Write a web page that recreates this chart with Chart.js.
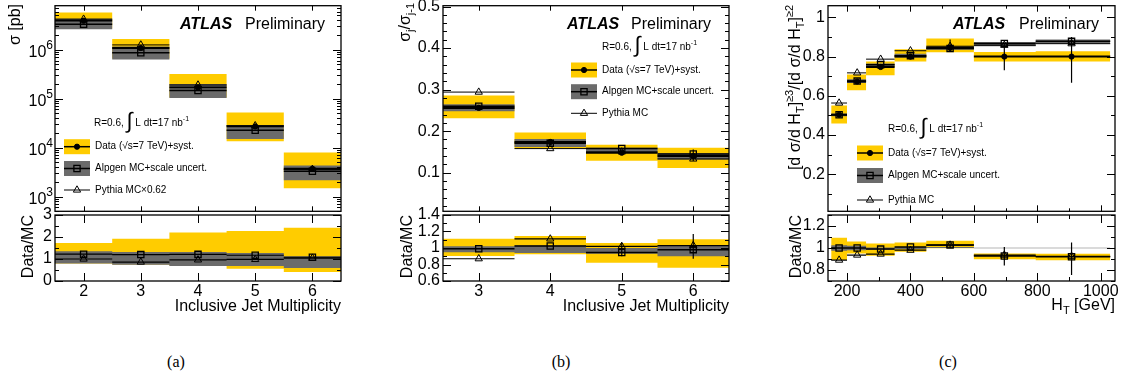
<!DOCTYPE html>
<html>
<head>
<meta charset="utf-8">
<script src="https://cdn.jsdelivr.net/npm/chart.js@4/dist/chart.umd.min.js"></script>
<style>
  body { margin: 0; background: #fff; }
  #wrap { position: relative; width: 1123px; height: 384px; overflow: hidden; }
  canvas { position: absolute; }
  .cap { position: absolute; top: 354px; font: 16px "Liberation Serif", "DejaVu Serif", serif; line-height: 16px; transform: translateX(-50%); }
</style>
</head>
<body>
<div id="wrap">
  <canvas id="mainA"></canvas>
  <canvas id="ratioA"></canvas>
  <canvas id="mainB"></canvas>
  <canvas id="ratioB"></canvas>
  <canvas id="mainC"></canvas>
  <canvas id="ratioC"></canvas>
  <div class="cap" style="left:176px">(a)</div>
  <div class="cap" style="left:561px">(b)</div>
  <div class="cap" style="left:948px">(c)</div>
</div>
<script>
// ---- panel (a): inclusive cross section vs jet multiplicity ----
const multEdgesA = [1.5, 2.5, 3.5, 4.5, 5.5, 6.5];
const jetMultA = [2, 3, 4, 5, 6];
const xsecData = [3.9e6, 1.08e6, 1.7e5, 2.7e4, 3.7e3];
const xsecSystLo = [2.7e6, 6.6e5, 1.05e5, 1.35e4, 1.47e3];
const xsecSystHi = [5.75e6, 1.66e6, 3.2e5, 5.2e4, 7.9e3];
const xsecAlpgen = [3.3e6, 8.6e5, 1.47e5, 2.25e4, 3.3e3];
const xsecAlpgenLo = [2.6e6, 6.3e5, 1.03e5, 1.5e4, 2.15e3];
const xsecAlpgenHi = [4.3e6, 1.16e6, 2.0e5, 2.9e4, 4.3e3];
const xsecPythia = [4.2e6, 1.25e6, 1.9e5, 2.8e4, 3.6e3];
const dmcSystLoA = [0.8, 0.75, 0.7, 0.56, 0.41];
const dmcSystHiA = [1.73, 1.92, 2.2, 2.27, 2.42];
const dmcAlpLoA = [0.79, 0.74, 0.68, 0.68, 0.59];
const dmcAlpHiA = [1.35, 1.32, 1.32, 1.27, 1.12];
const dmcAlpgenA = [1.22, 1.2, 1.21, 1.17, 1.08];
const dmcPythiaA = [1.0, 0.86, 0.96, 0.98, 1.04];
const xTicksA = [2, 3, 4, 5, 6];
const xLabelsA = ['2', '3', '4', '5', '6'];
const yTicksMainA = [1e3, 1e4, 1e5, 1e6];
const yExpMainA = ['3', '4', '5', '6'];
const yTicksRatioA = [0, 1, 2, 3];
const yLabelsRatioA = ['0', '1', '2', '3'];

// ---- panel (b): sigma_j / sigma_(j-1) ----
const multEdgesB = [2.5, 3.5, 4.5, 5.5, 6.5];
const jetMultB = [3, 4, 5, 6];
const rjData = [0.256, 0.174, 0.148, 0.140];
const rjSystLo = [0.231, 0.158, 0.129, 0.111];
const rjSystHi = [0.286, 0.197, 0.167, 0.160];
const rjAlpgen = [0.260, 0.171, 0.158, 0.145];
const rjAlpgenLo = [0.248, 0.162, 0.148, 0.132];
const rjAlpgenHi = [0.265, 0.181, 0.160, 0.147];
const rjPythia = [0.294, 0.158, 0.150, 0.133];
const rjStatLo = [null, null, 0.143, 0.128];
const rjStatHi = [null, null, 0.153, 0.156];
const dmcSystLoB = [0.903, 0.923, 0.82, 0.76];
const dmcSystHiB = [1.113, 1.145, 1.06, 1.105];
const dmcAlpLoB = [0.95, 0.94, 0.93, 0.9];
const dmcAlpHiB = [1.02, 1.03, 1.0, 1.025];
const dmcAlpgenB = [0.99, 1.025, 0.945, 0.98];
const dmcPythiaB = [0.87, 1.11, 1.02, 1.03];
const dmcStatLoB = [null, null, 0.9, 0.87];
const dmcStatHiB = [null, null, 1.06, 1.17];
const xTicksB = [3, 4, 5, 6];
const xLabelsB = ['3', '4', '5', '6'];
const yTicksMainB = [0.1, 0.2, 0.3, 0.4, 0.5];
const yLabelsMainB = ['0.1', '0.2', '0.3', '0.4', '0.5'];
const yTicksRatioB = [0.6, 0.8, 1, 1.2, 1.4];
const yLabelsRatioB = ['0.6', '0.8', '1', '1.2', '1.4'];

// ---- panel (c): >=3 / >=2 jet fraction vs HT ----
const htEdges = [150, 200, 260, 350, 450, 600, 795, 1030];
const htCenters = [175, 232, 306, 400, 525, 696, 908];
const fracData = [0.503, 0.673, 0.747, 0.800, 0.845, 0.800, 0.800];
const fracSystLo = [0.458, 0.628, 0.705, 0.775, 0.822, 0.775, 0.775];
const fracSystHi = [0.550, 0.708, 0.775, 0.838, 0.892, 0.823, 0.828];
const fracAlpgen = [0.503, 0.675, 0.758, 0.805, 0.842, 0.867, 0.878];
const fracAlpgenLo = [0.495, 0.665, 0.748, 0.795, 0.835, 0.853, 0.866];
const fracAlpgenHi = [0.510, 0.685, 0.765, 0.815, 0.850, 0.875, 0.888];
const fracPythia = [0.563, 0.717, 0.787, 0.830, 0.853, 0.858, 0.866];
const fracStatLo = [null, null, null, null, 0.825, 0.730, 0.667];
const fracStatHi = [null, null, null, null, 0.888, 0.865, 0.900];
const dmcSystLoC = [0.89, 0.95, 0.93, 0.967, 0.997, 0.897, 0.888];
const dmcSystHiC = [1.094, 1.06, 1.04, 1.05, 1.067, 0.95, 0.948];
const dmcAlpLoC = [0.975, 0.98, 0.985, 0.99, 1.0, 0.997, 0.997];
const dmcAlpHiC = [1.025, 1.02, 1.005, 1.01, 1.01, 1.003, 1.003];
const dmcAlpgenC = [1.0, 1.0, 0.99, 1.01, 1.027, 0.927, 0.92];
const dmcPythiaC = [0.89, 0.936, 0.945, 0.98, 1.027, 0.935, 0.925];
const dmcStatLoC = [null, null, null, null, 1.0, 0.84, 0.755];
const dmcStatHiC = [null, null, null, null, 1.05, 1.01, 1.05];
const xTicksC = [200, 400, 600, 800, 1000];
const xLabelsC = ['200', '400', '600', '800', '1000'];
const yTicksMainC = [0.2, 0.4, 0.6, 0.8, 1];
const yLabelsMainC = ['0.2', '0.4', '0.6', '0.8', '1'];
const yTicksRatioC = [0.8, 1, 1.2];
const yLabelsRatioC = ['0.8', '1', '1.2'];

const FONT = '"Liberation Sans", Arial, Helvetica, sans-serif';
const YELLOW = '#ffcc00';
const GRAY = '#6b6b6b';
const MK = {
  data: { pointStyle: 'circle', radius: 2.6, fill: '#000', bw: 1 },
  alpgen: { pointStyle: 'rect', radius: 4.4, fill: 'rgba(0,0,0,0)', bw: 1.3 },
  pythia: { pointStyle: 'triangle', radius: 4.2, fill: 'rgba(0,0,0,0)', bw: 1 }
};

// step outline of a histogram: value i holds from edge i to edge i+1
function stepPts(edges, vals) {
  const pts = vals.map((v, i) => ({ x: edges[i], y: v }));
  pts.push({ x: edges[edges.length - 1], y: vals[vals.length - 1] });
  return pts;
}
function segPts(edges, vals) {
  const pts = [];
  vals.forEach((v, i) => {
    if (v == null) return;
    pts.push({ x: edges[i], y: v }, { x: edges[i + 1], y: v }, { x: edges[i + 1], y: null });
  });
  return pts;
}
function errPts(xs, lo, hi) {
  const pts = [];
  lo.forEach((v, i) => {
    if (v == null) return;
    pts.push({ x: xs[i], y: v }, { x: xs[i], y: hi[i] }, { x: xs[i], y: null });
  });
  return pts;
}
function bandSets(edges, lo, hi, color, order) {
  const base = { stepped: 'before', borderWidth: 0, borderColor: 'rgba(0,0,0,0)', pointRadius: 0, order };
  return [
    Object.assign({ data: stepPts(edges, hi), fill: false }, base),
    Object.assign({ data: stepPts(edges, lo), fill: '-1', backgroundColor: color }, base)
  ];
}
function binLine(edges, vals, width, color) {
  return { data: segPts(edges, vals), borderColor: color || '#000', borderWidth: width, pointRadius: 0, fill: false, order: 5 };
}
function errSet(xs, lo, hi) {
  return { data: errPts(xs, lo, hi), borderColor: '#000', borderWidth: 1.2, pointRadius: 0, fill: false, order: 4 };
}
function markSet(xs, vals, mk) {
  return {
    data: vals.map((v, i) => ({ x: xs[i], y: v })), showLine: false,
    pointStyle: mk.pointStyle, pointRadius: mk.radius, pointBackgroundColor: mk.fill,
    pointBorderColor: '#000', pointBorderWidth: mk.bw, order: 1
  };
}

function tickMarks(scale, minor, log) {
  const out = [];
  if (log) {
    const e0 = Math.floor(Math.log10(scale.min)), e1 = Math.ceil(Math.log10(scale.max));
    for (let e = e0; e <= e1; e++) {
      for (let m = 1; m < 10; m++) {
        const v = m * Math.pow(10, e);
        if (v >= scale.min && v <= scale.max) out.push({ v, major: m === 1 });
      }
    }
    return out;
  }
  const t = scale.ticks.map(k => k.value);
  const sub = (t[1] - t[0]) / minor;
  let v = t[0];
  while (v - sub >= scale.min - 1e-9) v -= sub;
  for (; v <= scale.max + 1e-9; v += sub) {
    out.push({ v, major: t.some(k => Math.abs(k - v) < sub / 10) });
  }
  return out;
}

function fontOf(p) {
  return (p.italic ? 'italic ' : '') + (p.bold ? 'bold ' : '') + p.s + 'px ' + FONT;
}
function drawRich(ctx, t) {
  ctx.save();
  ctx.translate(t.x, t.y);
  if (t.rot) ctx.rotate(-Math.PI / 2);
  ctx.fillStyle = '#000';
  ctx.textBaseline = 'alphabetic';
  ctx.textAlign = 'left';
  let w = 0;
  t.parts.forEach(p => { ctx.font = fontOf(p); w += ctx.measureText(p.t).width; });
  let x = t.align === 'right' ? -w : t.align === 'center' ? -w / 2 : 0;
  t.parts.forEach(p => {
    ctx.font = fontOf(p);
    ctx.fillText(p.t, x, p.dy || 0);
    x += ctx.measureText(p.t).width;
  });
  ctx.restore();
}
function drawLegendRow(ctx, r) {
  if (r.fill) {
    ctx.fillStyle = r.fill;
    ctx.fillRect(r.x, r.y - r.h / 2, r.w, r.h);
  }
  ctx.strokeStyle = '#000';
  ctx.lineWidth = r.lw;
  ctx.beginPath();
  ctx.moveTo(r.x, r.y);
  ctx.lineTo(r.x + r.w, r.y);
  ctx.stroke();
  ctx.fillStyle = r.mk.fill;
  ctx.lineWidth = r.mk.bw;
  Chart.helpers.drawPoint(ctx, { pointStyle: r.mk.pointStyle, radius: r.mk.radius, rotation: 0, borderWidth: r.mk.bw }, r.x + r.w / 2, r.y);
  ctx.fillStyle = '#000';
  ctx.font = '10px ' + FONT;
  ctx.textBaseline = 'middle';
  ctx.textAlign = 'left';
  ctx.fillText(r.text, r.x + r.w + 5, r.y);
}

// ROOT-like frame: inward ticks on all four sides, extra texts and legend
const rootStyle = {
  id: 'rootStyle',
  afterDraw(chart, args, o) {
    const ctx = chart.ctx, a = chart.chartArea;
    const xs = chart.scales.x, ys = chart.scales.y;
    ctx.save();
    ctx.strokeStyle = '#000';
    ctx.lineWidth = 1;
    ctx.beginPath();
    tickMarks(xs, o.xMinor, false).forEach(t => {
      const p = Math.round(xs.getPixelForValue(t.v)) + 0.5;
      const len = t.major ? o.xTick : o.xTick / 2;
      ctx.moveTo(p, a.bottom); ctx.lineTo(p, a.bottom - len);
      ctx.moveTo(p, a.top); ctx.lineTo(p, a.top + len);
    });
    tickMarks(ys, o.yMinor, o.yLog).forEach(t => {
      const p = Math.round(ys.getPixelForValue(t.v)) + 0.5;
      const len = t.major ? o.yTick : o.yTick / 2;
      ctx.moveTo(a.left, p); ctx.lineTo(a.left + len, p);
      ctx.moveTo(a.right, p); ctx.lineTo(a.right - len, p);
    });
    ctx.stroke();
    ctx.lineWidth = 1.3;
    ctx.strokeRect(a.left, a.top, a.right - a.left, a.bottom - a.top);

    if (o.expLabels) {
      ctx.fillStyle = '#000';
      ctx.textBaseline = 'alphabetic';
      ctx.textAlign = 'right';
      ys.ticks.forEach((t, i) => {
        const p = ys.getPixelForValue(t.value);
        ctx.font = '12px ' + FONT;
        const ex = o.expLabels[i];
        const ew = ctx.measureText(ex).width;
        ctx.fillText(ex, a.left - 2, p - 1);
        ctx.font = '16px ' + FONT;
        ctx.fillText('10', a.left - 2 - ew, p + 7);
      });
    }

    ctx.translate(-o.ox, -o.oy);
    (o.texts || []).forEach(t => drawRich(ctx, t));
    (o.legend || []).forEach(r => drawLegendRow(ctx, r));
    ctx.restore();
  }
};

function makeChart(id, box, o) {
  const cv = document.getElementById(id);
  cv.width = box.w; cv.height = box.h;
  cv.style.left = box.x + 'px'; cv.style.top = box.y + 'px';
  const tickFont = { family: FONT, size: 16 };
  return new Chart(cv, {
    type: 'line',
    data: { datasets: o.datasets },
    plugins: [rootStyle],
    options: {
      responsive: false, animation: false, devicePixelRatio: 1, events: [],
      layout: { padding: o.padding },
      plugins: {
        legend: { display: false }, tooltip: { enabled: false },
        rootStyle: Object.assign({ ox: box.x, oy: box.y }, o.style)
      },
      scales: {
        x: {
          type: 'linear', min: o.xMin, max: o.xMax,
          afterBuildTicks: s => { s.ticks = o.xTicks.map(v => ({ value: v })); },
          afterFit: s => { s.height = o.xHeight; s.paddingLeft = 0; s.paddingRight = 0; },
          grid: { display: false, drawTicks: false }, border: { display: false },
          ticks: {
            display: !!o.xLabels, autoSkip: false, maxRotation: 0, padding: 1, font: tickFont, color: '#000',
            callback: (v, i) => (o.xLabels ? o.xLabels[i] : '')
          }
        },
        y: {
          type: o.yLog ? 'logarithmic' : 'linear', min: o.yMin, max: o.yMax,
          afterBuildTicks: s => { s.ticks = o.yTicks.map(v => ({ value: v })); },
          afterFit: s => { s.width = 55; s.paddingTop = 0; s.paddingBottom = 0; },
          grid: { display: false, drawTicks: false }, border: { display: false },
          ticks: {
            autoSkip: false, padding: 3, font: tickFont, color: '#000',
            callback: (v, i) => (o.yLabels ? o.yLabels[i] : '')
          }
        }
      }
    }
  });
}

function legendRows(x, ys, pythiaText) {
  return [
    { x, y: ys[0], w: 26, h: 15, fill: YELLOW, lw: 1.5, mk: MK.data, text: 'Data (√s=7 TeV)+syst.' },
    { x, y: ys[1], w: 26, h: 15, fill: GRAY, lw: 1.5, mk: MK.alpgen, text: 'Alpgen MC+scale uncert.' },
    { x, y: ys[2], w: 26, h: 0, fill: null, lw: 1, mk: MK.pythia, text: pythiaText }
  ];
}
function atlasText(x, xPrelim, y) {
  return [
    { x, y, parts: [{ t: 'ATLAS', s: 16, bold: true, italic: true }] },
    { x: xPrelim, y, parts: [{ t: 'Preliminary', s: 16 }] }
  ];
}
function lumiText(x, y) {
  return { x, y, parts: [{ t: 'R=0.6, ', s: 10 }, { t: '∫', s: 22, dy: 2 }, { t: ' L dt=17 nb', s: 10 }, { t: '-1', s: 7, dy: -5 }] };
}
function dataMcTitle(x) {
  return { x, y: 215, rot: true, align: 'right', parts: [{ t: 'Data/MC', s: 16 }] };
}
const MAIN_PAD = { left: 0, top: 5, right: 8, bottom: 2 };
const RATIO_PAD = { left: 0, top: 15, right: 8, bottom: 0 };

// ---------- (a) ----------
makeChart('mainA', { x: 0, y: 0, w: 349, h: 217 }, {
  padding: MAIN_PAD, xMin: 1.5, xMax: 6.5, xTicks: xTicksA, xHeight: 0,
  yLog: true, yMin: 500, yMax: 7.9e6, yTicks: yTicksMainA,
  datasets: [
    ...bandSets(multEdgesA, xsecSystLo, xsecSystHi, YELLOW, 10),
    ...bandSets(multEdgesA, xsecAlpgenLo, xsecAlpgenHi, GRAY, 9),
    binLine(multEdgesA, xsecPythia, 1),
    binLine(multEdgesA, xsecAlpgen, 1.5),
    binLine(multEdgesA, xsecData, 1.8),
    markSet(jetMultA, xsecPythia, MK.pythia),
    markSet(jetMultA, xsecAlpgen, MK.alpgen),
    markSet(jetMultA, xsecData, MK.data)
  ],
  style: {
    xMinor: 1, xTick: 5, yMinor: 1, yTick: 8, yLog: true, expLabels: yExpMainA,
    texts: [
      { x: 20, y: 4, rot: true, align: 'right', parts: [{ t: 'σ [pb]', s: 16 }] },
      ...atlasText(180, 245, 29),
      lumiText(94, 126)
    ],
    legend: legendRows(64, [146.7, 168.5, 190], 'Pythia MC×0.62')
  }
});
makeChart('ratioA', { x: 0, y: 200, w: 349, h: 130 }, {
  padding: RATIO_PAD, xMin: 1.5, xMax: 6.5, xTicks: xTicksA, xLabels: xLabelsA, xHeight: 49,
  yMin: 0, yMax: 3, yTicks: yTicksRatioA, yLabels: yLabelsRatioA,
  datasets: [
    ...bandSets(multEdgesA, dmcSystLoA, dmcSystHiA, YELLOW, 10),
    ...bandSets(multEdgesA, dmcAlpLoA, dmcAlpHiA, GRAY, 9),
    binLine(multEdgesA, dmcPythiaA, 1.2),
    binLine(multEdgesA, dmcAlpgenA, 1.2),
    markSet(jetMultA, dmcPythiaA, MK.pythia),
    markSet(jetMultA, dmcAlpgenA, MK.alpgen)
  ],
  style: {
    xMinor: 1, xTick: 8, yMinor: 2, yTick: 8,
    texts: [
      dataMcTitle(33),
      { x: 341, y: 311, align: 'right', parts: [{ t: 'Inclusive Jet Multiplicity', s: 16 }] }
    ]
  }
});

// ---------- (b) ----------
makeChart('mainB', { x: 388, y: 0, w: 349, h: 217 }, {
  padding: MAIN_PAD, xMin: 2.5, xMax: 6.5, xTicks: xTicksB, xHeight: 0,
  yMin: 0.007, yMax: 0.502, yTicks: yTicksMainB, yLabels: yLabelsMainB,
  datasets: [
    ...bandSets(multEdgesB, rjSystLo, rjSystHi, YELLOW, 10),
    ...bandSets(multEdgesB, rjAlpgenLo, rjAlpgenHi, GRAY, 9),
    binLine(multEdgesB, rjPythia, 1),
    binLine(multEdgesB, rjAlpgen, 1.5),
    binLine(multEdgesB, rjData, 2),
    errSet(jetMultB, rjStatLo, rjStatHi),
    markSet(jetMultB, rjPythia, MK.pythia),
    markSet(jetMultB, rjAlpgen, MK.alpgen),
    markSet(jetMultB, rjData, MK.data)
  ],
  style: {
    xMinor: 1, xTick: 5, yMinor: 5, yTick: 8,
    texts: [
      { x: 410, y: 3, rot: true, align: 'right', parts: [{ t: 'σ', s: 16 }, { t: 'j', s: 11, dy: 4 }, { t: '/σ', s: 16 }, { t: 'j-1', s: 11, dy: 4 }] },
      ...atlasText(567, 631, 29),
      lumiText(602, 50)
    ],
    legend: legendRows(571, [70, 91.7, 113.3], 'Pythia MC')
  }
});
makeChart('ratioB', { x: 388, y: 200, w: 349, h: 130 }, {
  padding: RATIO_PAD, xMin: 2.5, xMax: 6.5, xTicks: xTicksB, xLabels: xLabelsB, xHeight: 49,
  yMin: 0.6, yMax: 1.4, yTicks: yTicksRatioB, yLabels: yLabelsRatioB,
  datasets: [
    ...bandSets(multEdgesB, dmcSystLoB, dmcSystHiB, YELLOW, 10),
    ...bandSets(multEdgesB, dmcAlpLoB, dmcAlpHiB, GRAY, 9),
    binLine(multEdgesB, dmcPythiaB, 1.2),
    binLine(multEdgesB, dmcAlpgenB, 1.5),
    errSet(jetMultB, dmcStatLoB, dmcStatHiB),
    markSet(jetMultB, dmcPythiaB, MK.pythia),
    markSet(jetMultB, dmcAlpgenB, MK.alpgen)
  ],
  style: {
    xMinor: 1, xTick: 8, yMinor: 2, yTick: 8,
    texts: [
      dataMcTitle(412),
      { x: 729, y: 311, align: 'right', parts: [{ t: 'Inclusive Jet Multiplicity', s: 16 }] }
    ]
  }
});

// ---------- (c) ----------
makeChart('mainC', { x: 773, y: 0, w: 350, h: 217 }, {
  padding: MAIN_PAD, xMin: 140, xMax: 1045, xTicks: xTicksC, xHeight: 0,
  yMin: 0.01, yMax: 1.06, yTicks: yTicksMainC, yLabels: yLabelsMainC,
  datasets: [
    ...bandSets(htEdges, fracSystLo, fracSystHi, YELLOW, 10),
    ...bandSets(htEdges, fracAlpgenLo, fracAlpgenHi, GRAY, 9),
    binLine(htEdges, fracPythia, 1),
    binLine(htEdges, fracAlpgen, 1.5),
    binLine(htEdges, fracData, 2),
    errSet(htCenters, fracStatLo, fracStatHi),
    markSet(htCenters, fracPythia, MK.pythia),
    markSet(htCenters, fracAlpgen, MK.alpgen),
    markSet(htCenters, fracData, MK.data)
  ],
  style: {
    xMinor: 2, xTick: 6, yMinor: 2, yTick: 8,
    texts: [
      { x: 800, y: 5, rot: true, align: 'right', parts: [
        { t: '[d σ/d H', s: 16 }, { t: 'T', s: 11, dy: 4 }, { t: ']', s: 16 }, { t: '≥3', s: 11, dy: -7 },
        { t: '/[d σ/d H', s: 16 }, { t: 'T', s: 11, dy: 4 }, { t: ']', s: 16 }, { t: '≥2', s: 11, dy: -7 }
      ] },
      ...atlasText(953, 1019, 29),
      lumiText(888, 132)
    ],
    legend: legendRows(857, [153, 175.5, 200], 'Pythia MC')
  }
});
makeChart('ratioC', { x: 773, y: 200, w: 350, h: 130 }, {
  padding: RATIO_PAD, xMin: 140, xMax: 1045, xTicks: xTicksC, xLabels: xLabelsC, xHeight: 49,
  yMin: 0.7, yMax: 1.3, yTicks: yTicksRatioC, yLabels: yLabelsRatioC,
  datasets: [
    ...bandSets(htEdges, dmcSystLoC, dmcSystHiC, YELLOW, 10),
    ...bandSets(htEdges, dmcAlpLoC, dmcAlpHiC, GRAY, 9),
    binLine(htEdges, dmcPythiaC, 1.2),
    binLine(htEdges, dmcAlpgenC, 1.5),
    errSet(htCenters, dmcStatLoC, dmcStatHiC),
    markSet(htCenters, dmcPythiaC, MK.pythia),
    markSet(htCenters, dmcAlpgenC, MK.alpgen)
  ],
  style: {
    xMinor: 2, xTick: 8, yMinor: 2, yTick: 8,
    texts: [
      dataMcTitle(801),
      { x: 1115, y: 310, align: 'right', parts: [{ t: 'H', s: 16 }, { t: 'T', s: 11, dy: 4 }, { t: ' [GeV]', s: 16 }] }
    ]
  }
});
</script>
</body>
</html>
